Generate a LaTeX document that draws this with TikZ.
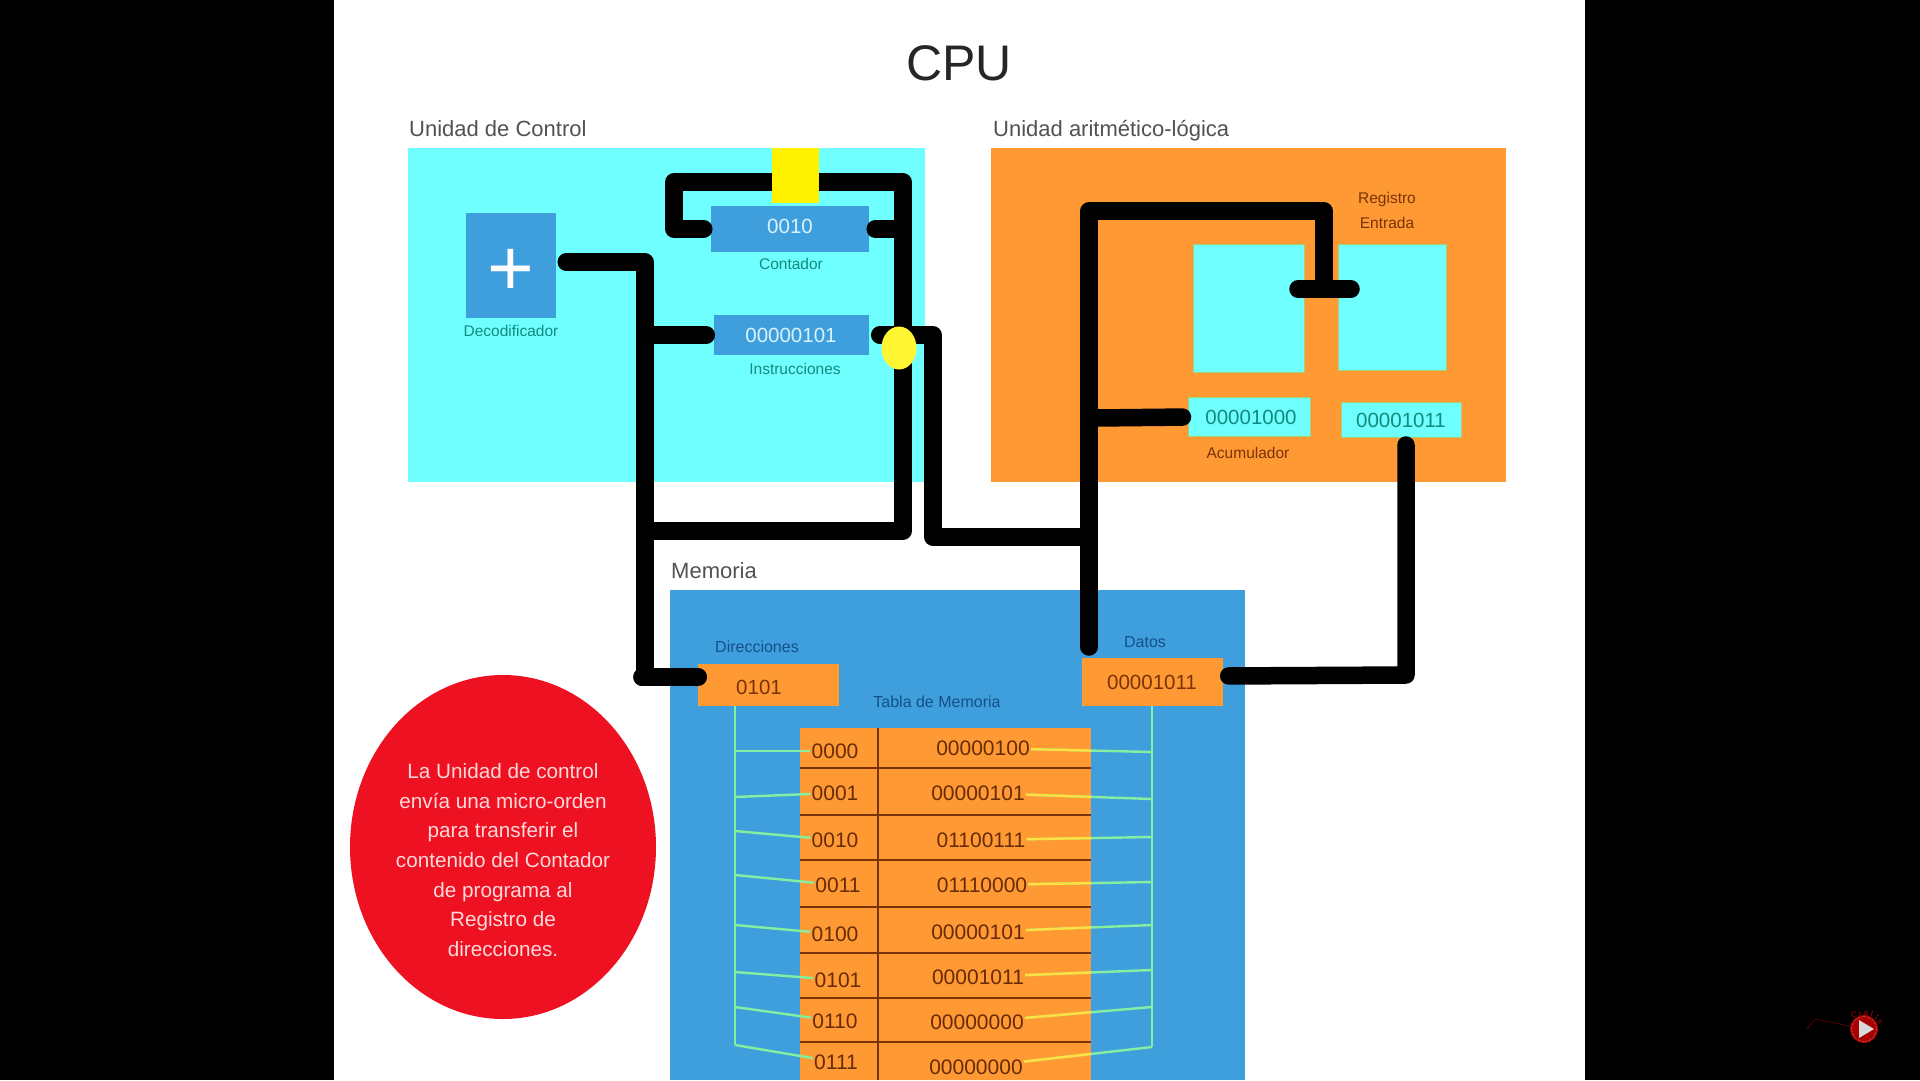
\documentclass[tikz,border=0pt]{standalone}
\usepackage{fontspec}
\setmainfont{Liberation Sans}
\usetikzlibrary{shapes.geometric}
\definecolor{cyanbg}{HTML}{70FFFF}
\definecolor{orangebg}{HTML}{FF9933}
\definecolor{bluebg}{HTML}{3F9FDC}
\definecolor{redbg}{HTML}{EE1122}
\definecolor{busgreen}{HTML}{84EFA0}
\definecolor{busyellow}{HTML}{FFE040}
\definecolor{tealtext}{HTML}{128A80}
\definecolor{browntext}{HTML}{7A3208}
\definecolor{navytext}{HTML}{14508A}
\newcommand{\FS}[1]{\fontsize{#1}{#1}\selectfont}

\begin{document}
\begin{tikzpicture}[x=1pt, y=-1pt,
  wire/.style = {draw=black, line width=17.5pt, line cap=round, line join=round},
  bluebox/.style = {fill=bluebg, inner sep=0pt, text=white!85!cyan, font=\FS{20.5}},
  cyanbox/.style = {fill=cyanbg, draw=busgreen!70!orange, line width=1pt, inner sep=0pt, text=tealtext, font=\FS{20.5}},
  orangebox/.style = {fill=orangebg, inner sep=0pt, text=browntext, font=\FS{20.5}},
  heading/.style = {text=black!68, font=\FS{22}, anchor=west, inner sep=0pt},
  tealsmall/.style = {text=tealtext, font=\FS{15.5}, inner sep=0pt},
  brownsmall/.style = {text=browntext, font=\FS{15.5}, inner sep=0pt},
  navysmall/.style = {text=navytext, font=\FS{16}, inner sep=0pt},
  celltext/.style = {text=browntext!85!black, font=\FS{21}, inner sep=1pt},
  bus/.style = {draw=busgreen, line width=2.4pt},
  rowline/.style = {draw=browntext, line width=1.6pt},
  craft/.style = {text=red!65!black, font=\FS{8}, inner sep=0pt}]

% page
\path[fill=black] (0, 0) rectangle (1920, 1080);
\path[fill=white] (334, 0) rectangle (1585, 1080);
\useasboundingbox (0, 0) rectangle (1920, 1080);

\node[text=black!85, font=\FS{50}, inner sep=0pt] (Title) at (959, 63) {CPU};

% the three units
\node[heading] (HControl) at (409, 129) {Unidad de Control};
\node[heading] (HAlu) at (993, 131) {Unidad aritmético-lógica};
\node[heading] (HMem) at (671, 571) {Memoria};

\path[fill=cyanbg] (408, 148) rectangle (925, 482);
\path[fill=orangebg] (991, 148) rectangle (1506, 482);
\path[fill=bluebg] (670, 590) rectangle (1245, 1080);

% control unit
\node[bluebox, minimum width=90pt, minimum height=105pt] (Dec) at (511, 265) {};
\node[text=white, font=\FS{80}, inner sep=0pt] (Plus) at (511, 272) {+};
\node[tealsmall] (LDec) at (511, 331) {Decodificador};
\node[bluebox, minimum width=158pt, minimum height=46pt, text depth=5pt] (Cont) at (790, 229) {0010};
\node[tealsmall] (LCont) at (791, 264) {Contador};
\node[bluebox, minimum width=155pt, minimum height=40pt] (Ins) at (791, 335) {00000101};
\node[tealsmall] (LIns) at (795, 369) {Instrucciones};

% alu
\node[cyanbox, minimum width=111pt, minimum height=128pt] (SqA) at (1249, 308) {};
\node[cyanbox, minimum width=108pt, minimum height=126pt] (SqB) at (1392, 307) {};
\node[cyanbox, minimum width=122pt, minimum height=39pt] (Acu) at (1249, 417) {\hspace{4pt}00001000};
\node[cyanbox, minimum width=120pt, minimum height=35pt] (Reg) at (1401, 420) {00001011};
\node[brownsmall] (LReg1) at (1387, 199) {Registro};
\node[brownsmall] (LReg2) at (1387, 223) {Entrada};
\node[brownsmall] (LAcu) at (1248, 453) {Acumulador};

% memory
\node[navysmall] (LDir) at (757, 647) {Direcciones};
\node[orangebox, minimum width=141pt, minimum height=42pt, text height=20pt] (Dir) at (768, 685) {\hspace{-18pt}0101};
\node[navysmall] (LDat) at (1145, 642) {Datos};
\node[orangebox, minimum width=141pt, minimum height=48pt] (Dat) at (1152, 682) {00001011};
\node[navysmall] (LTabla) at (937, 702) {Tabla de Memoria};

\path[fill=orangebg] (800, 728) rectangle (1091, 1080);
\draw[rowline] (800, 768) -- (1091, 768);
\draw[rowline] (800, 815) -- (1091, 815);
\draw[rowline] (800, 860) -- (1091, 860);
\draw[rowline] (800, 907) -- (1091, 907);
\draw[rowline] (800, 953) -- (1091, 953);
\draw[rowline] (800, 998) -- (1091, 998);
\draw[rowline] (800, 1042) -- (1091, 1042);
\draw[rowline] (878, 728) -- (878, 1080);

\node[celltext] (A0) at (835, 751) {0000};
\node[celltext] (A1) at (835, 793) {0001};
\node[celltext] (A2) at (835, 840) {0010};
\node[celltext] (A3) at (838, 885) {0011};
\node[celltext] (A4) at (835, 934) {0100};
\node[celltext] (A5) at (838, 980) {0101};
\node[celltext] (A6) at (835, 1021) {0110};
\node[celltext] (A7) at (836, 1062) {0111};

\node[celltext] (D0) at (983, 748) {00000100};
\node[celltext] (D1) at (978, 793) {00000101};
\node[celltext] (D2) at (981, 840) {01100111};
\node[celltext] (D3) at (982, 885) {01110000};
\node[celltext] (D4) at (978, 932) {00000101};
\node[celltext] (D5) at (978, 977) {00001011};
\node[celltext] (D6) at (977, 1022) {00000000};
\node[celltext] (D7) at (976, 1067) {00000000};

% address bus
\coordinate (L0) at (735, 751);
\coordinate (L1) at (735, 797);
\coordinate (L2) at (735, 831);
\coordinate (L3) at (735, 875);
\coordinate (L4) at (735, 925);
\coordinate (L5) at (735, 972);
\coordinate (L6) at (735, 1007);
\coordinate (L7) at (735, 1045);

\draw[bus] (Dir.south -| L0) -- (L7);
\draw[bus] (L0) -- (A0);
\draw[bus] (L1) -- (A1);
\draw[bus] (L2) -- (A2);
\draw[bus] (L3) -- (A3);
\draw[bus] (L4) -- (A4);
\draw[bus] (L5) -- (A5);
\draw[bus] (L6) -- (A6);
\draw[bus] (L7) -- (A7);

% data bus
\coordinate (R0) at (1152, 752);
\coordinate (R1) at (1152, 799);
\coordinate (R2) at (1152, 837);
\coordinate (R3) at (1152, 882);
\coordinate (R4) at (1152, 925);
\coordinate (R5) at (1152, 970);
\coordinate (R6) at (1152, 1007);
\coordinate (R7) at (1152, 1047);

\draw[bus] (Dat.south) -- (R7);
\draw[bus] (D0) -- (R0);
\draw[bus] (D1) -- (R1);
\draw[bus] (D2) -- (R2);
\draw[bus] (D3) -- (R3);
\draw[bus] (D4) -- (R4);
\draw[bus] (D5) -- (R5);
\draw[bus] (D6) -- (R6);
\draw[bus] (D7) -- (R7);

\begin{scope}
\clip (800, 728) rectangle (1091, 1080);
\draw[bus, draw=busyellow] (D0) -- (R0);
\draw[bus, draw=busyellow] (D1) -- (R1);
\draw[bus, draw=busyellow] (D2) -- (R2);
\draw[bus, draw=busyellow] (D3) -- (R3);
\draw[bus, draw=busyellow] (D4) -- (R4);
\draw[bus, draw=busyellow] (D5) -- (R5);
\draw[bus, draw=busyellow] (D6) -- (R6);
\draw[bus, draw=busyellow] (D7) -- (R7);
\end{scope}

% wires
\coordinate (TopL) at (674, 182);
\coordinate (TopR) at (903, 182);
\coordinate (LowL) at (674, 229);
\coordinate (LowR) at (903, 229);
\coordinate (BotR) at (903, 531);
\coordinate (BotL) at (651, 531);
\coordinate (DecC) at (645, 262);
\coordinate (InsL) at (651, 335);
\coordinate (DirC) at (645, 677);
\coordinate (DirL) at (642, 677);
\coordinate (InsR) at (933, 335);
\coordinate (MidL) at (933, 537);
\coordinate (MidR) at (1083, 537);
\coordinate (DatT) at (1089, 647);
\coordinate (AluL) at (1089, 211);
\coordinate (AluR) at (1324, 211);
\coordinate (AluB) at (1324, 289);
\coordinate (BarL) at (1298, 289);
\coordinate (BarR) at (1351, 289);
\coordinate (AcuL) at (1095, 418);
\coordinate (RegB) at (1406, 675);

\draw[wire, shorten <=10pt] ([yshift=3pt]Dec.east) -- (DecC) -- (DirC) -- (DirL);
\draw[wire, shorten >=-1pt] (DirL) -- ([yshift=8pt]Dir.west);
\draw[wire, shorten <=7pt] (Cont.west) -- (LowL) -- (TopL) -- (TopR) -- (BotR) -- (BotL);
\draw[wire, shorten <=6pt] (Cont.east) -- (LowR);
\draw[wire, shorten <=7pt] (Ins.west) -- (InsL);
\draw[wire, shorten <=11pt] (Ins.east) -- (InsR) -- (MidL) -- (MidR);
\draw[wire] (DatT) -- (AluL) -- (AluR) -- (AluB);
\draw[wire] (BarL) -- (BarR);
\draw[wire, shorten >=5pt] (AcuL) -- (Acu.west);
\draw[wire, shorten <=7pt, shorten >=6pt] ([xshift=5pt]Reg.south) -- (RegB) -- ([yshift=6pt]Dat.east);

\node[fill=yellow, minimum width=47pt, minimum height=55pt, inner sep=0pt] (Flag) at (795, 175) {};
\node[ellipse, fill=yellow!80!white, minimum width=35pt, minimum height=43pt, inner sep=0pt] (Dot) at (899, 348) {};

% note
\node[ellipse, fill=redbg, minimum width=306pt, minimum height=344pt, inner sep=0pt] (Nota) at (503, 847) {};
\node[text=white!85!red, font=\fontsize{20.7}{29.7}\selectfont, align=center, inner sep=0pt] (NotaTxt) at (503, 860)
  {La Unidad de control\\envía una micro-orden\\para transferir el\\contenido del Contador\\de programa al\\Registro de\\direcciones.};

% logo
\coordinate (W0) at (1807, 1029);
\coordinate (W1) at (1815, 1019);
\node[circle, fill=red!65!black, minimum size=28pt, inner sep=0pt] (Logo) at (1864, 1029) {};
\draw[draw=red!40!black, line width=0.7pt] (W0) -- (W1) -- (Logo);
\draw[draw=white!70!red, line width=0.5pt, densely dotted] (1864, 1029) circle (12.5);
\path[fill=black!15] (1859, 1020) -- (1874, 1029) -- (1859, 1038) -- cycle;
\node[craft] (C1) at (1854, 1015) {C};
\node[craft, rotate=-5] (C2) at (1860, 1014) {r};
\node[craft] (C3) at (1866, 1013) {a};
\node[craft, rotate=-15] (C4) at (1872, 1014) {f};
\node[craft, rotate=-35] (C5) at (1877, 1017) {t};
\node[craft, rotate=-55] (C6) at (1880, 1022) {s};

\end{tikzpicture}
\end{document}
